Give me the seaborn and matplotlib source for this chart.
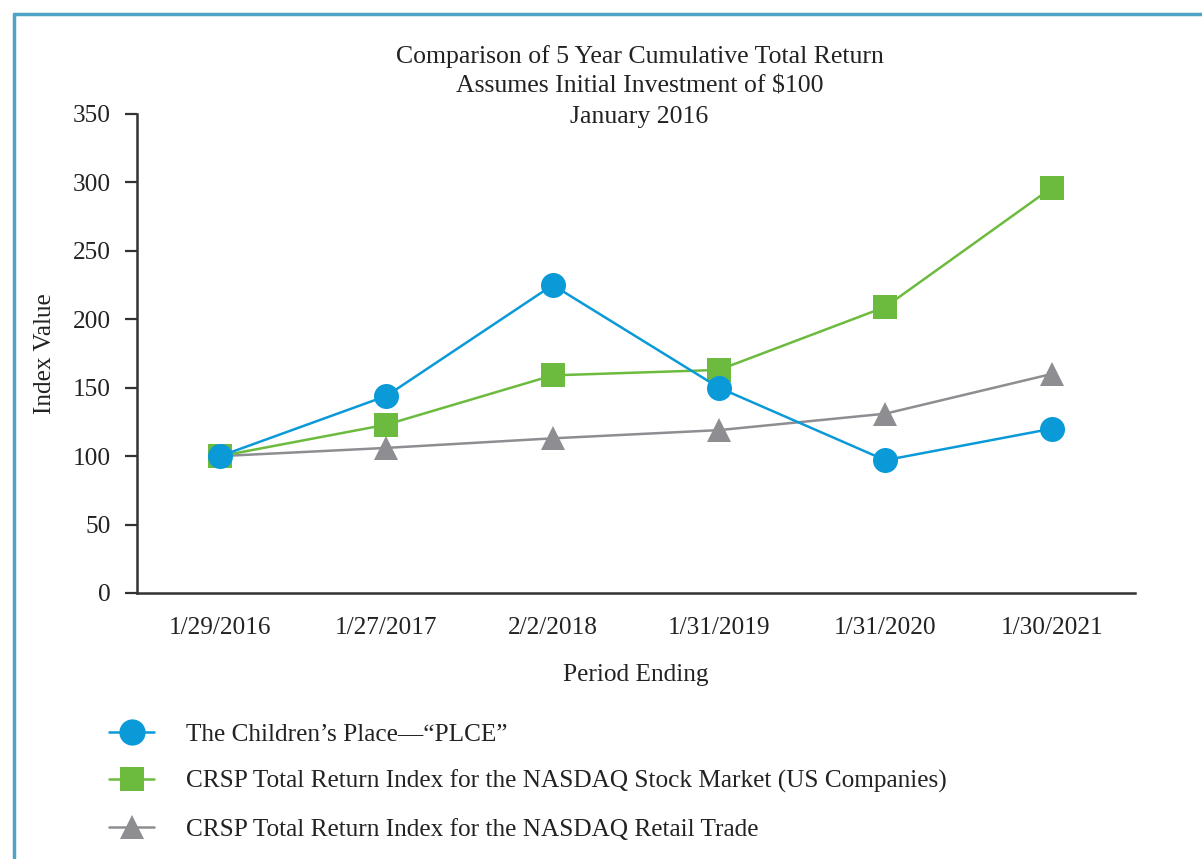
import pandas as pd
import seaborn as sns
import matplotlib.pyplot as plt
from matplotlib.lines import Line2D

periods = ["1/29/2016", "1/27/2017", "2/2/2018", "1/31/2019", "1/31/2020", "1/30/2021"]
plce = [100, 144, 225, 150, 97, 120]
nasdaq = [100, 123, 159, 163, 209, 296]
retail = [100, 106, 113, 119, 131, 160]

series_names = [
    "The Children\u2019s Place\u2014\u201cPLCE\u201d",
    "CRSP Total Return Index for the NASDAQ Stock Market (US Companies)",
    "CRSP Total Return Index for the NASDAQ Retail Trade",
]
colors = ["#0a9ad8", "#6cbb3f", "#8e8e92"]
markers = ["o", "s", "^"]

rows = []
for name, vals in zip(series_names, [plce, nasdaq, retail]):
    for i, v in enumerate(vals):
        rows.append({"pos": i, "value": v, "series": name})
df = pd.DataFrame(rows)

sns.set_style("white")
plt.rcParams["font.family"] = ["Liberation Serif", "DejaVu Serif"]
text_color = "#222222"
fs = 18.2

fig = plt.figure(figsize=(12.02, 8.59), dpi=100)
ax = fig.add_axes([0.114, 0.3097, 0.830, 0.5576])

# draw in reverse so PLCE sits on top
for name, col, mk, ms in reversed(list(zip(series_names, colors, markers, [18, 17, 17]))):
    sub = df[df["series"] == name]
    sns.lineplot(data=sub, x="pos", y="value", color=col, marker=mk,
                 markersize=ms, markeredgewidth=0, linewidth=1.8,
                 sort=False, ax=ax, label=name)

ax.set_xlim(-0.5, 5.5)
ax.set_ylim(0, 350)
ax.set_yticks(range(0, 351, 50))
ax.set_xticks(range(len(periods)))
ax.set_xticklabels(periods)
ax.tick_params(axis="y", direction="out", length=9, width=1.6, color="#333333",
               labelsize=fs, labelcolor=text_color, pad=10, left=True)
ax.tick_params(axis="x", length=0, labelsize=fs, labelcolor=text_color, pad=17)
for side in ["top", "right"]:
    ax.spines[side].set_visible(False)
for side in ["left", "bottom"]:
    ax.spines[side].set_color("#333333")
    ax.spines[side].set_linewidth(1.8)

ax.set_xlabel("Period Ending", fontsize=fs, color=text_color, labelpad=18)
ax.set_ylabel("Index Value", fontsize=fs, color=text_color, labelpad=12)

fig.text(0.532, 0.948,
         "Comparison of 5 Year Cumulative Total Return\nAssumes Initial Investment of $100\nJanuary 2016",
         ha="center", va="top", fontsize=18.5, color=text_color, linespacing=1.48)

leg = ax.get_legend()
handles = leg.legend_handles[::-1]
labels = [t.get_text() for t in leg.texts][::-1]
leg.remove()
fig.legend(handles, labels, loc="upper left", bbox_to_anchor=(0.072, 0.185),
           bbox_transform=fig.transFigure, frameon=False, fontsize=fs,
           handlelength=1.77, handletextpad=1.26, labelspacing=0.97,
           labelcolor=text_color, markerscale=1.05)

# teal frame visible on the left and top edges
fig.add_artist(Line2D([0.0115, 0.0115], [0.0, 0.984], transform=fig.transFigure,
                      color="#4fa3c6", linewidth=2.5))
fig.add_artist(Line2D([0.0115, 1.0], [0.984, 0.984], transform=fig.transFigure,
                      color="#4fa3c6", linewidth=2.5))

fig.savefig("out.png", dpi=100, facecolor="white")
